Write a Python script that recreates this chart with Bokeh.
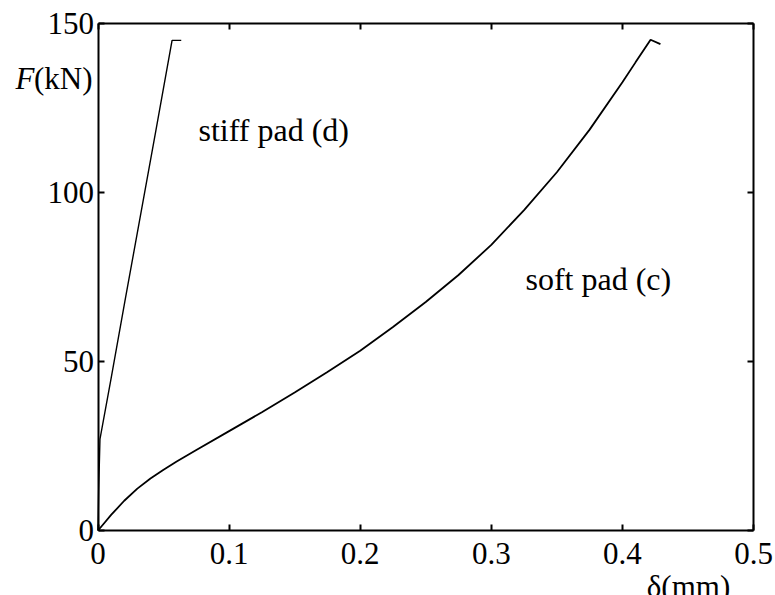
from bokeh.plotting import figure
from bokeh.models import Range1d, LinearAxis, Label, FixedTicker
from bokeh.embed import file_html
from bokeh.resources import INLINE

# Data
stiff_delta = [0.0, 0.0005, 0.0015, 0.010, 0.0206, 0.044, 0.0565, 0.0635]
stiff_force = [0.0, 12.0, 27.0, 45.0, 68.0, 118.0, 145.0, 145.0]

soft_delta = [0.0, 0.005, 0.010, 0.020, 0.030, 0.040, 0.050, 0.060, 0.075,
              0.100, 0.125, 0.150, 0.175, 0.200, 0.225, 0.250, 0.275, 0.300,
              0.325, 0.350, 0.375, 0.400, 0.410, 0.4215, 0.429]
soft_force = [0.0, 2.3, 4.6, 8.8, 12.4, 15.4, 18.0, 20.4, 23.8,
              29.4, 35.0, 40.8, 46.9, 53.2, 60.2, 67.6, 75.6, 84.5,
              94.8, 106.0, 118.6, 132.6, 138.5, 145.2, 143.9]

x_ticks = [0, 0.1, 0.2, 0.3, 0.4, 0.5]
x_tick_labels = ["0", "0.1", "0.2", "0.3", "0.4", "0.5"]
y_ticks = [0, 50, 100, 150]
y_tick_labels = ["0", "50", "100", "150"]
x_lim = (0, 0.5)
y_lim = (0, 150)

FONT = "Liberation Serif"
FS = "31px"
FS_TXT = "32px"

W, H = 775, 595
# pixel placement of the data box inside the canvas
left_px, right_px, top_px, bottom_px = 97.5, 753.0, 23.0, 530.0
sx = (x_lim[1] - x_lim[0]) / (right_px - left_px)
sy = (y_lim[1] - y_lim[0]) / (bottom_px - top_px)
x_range = Range1d(x_lim[0] - left_px * sx, x_lim[0] + (W - left_px) * sx)
y_range = Range1d(y_lim[0] - (H - bottom_px) * sy, y_lim[1] + top_px * sy)

p = figure(width=W, height=H, x_range=x_range, y_range=y_range,
           output_backend="svg", toolbar_location=None,
           min_border=0)
p.grid.visible = False
p.outline_line_color = None
p.background_fill_color = "white"
p.border_fill_color = None


def style(ax, ticks, labels, loc, bounds, show_labels=True):
    ax.fixed_location = loc
    ax.bounds = bounds
    ax.ticker = FixedTicker(ticks=ticks)
    ax.major_label_overrides = {t: l for t, l in zip(ticks, labels)}
    ax.major_tick_in = 6
    ax.major_tick_out = 0
    ax.minor_tick_in = 0
    ax.minor_tick_out = 0
    ax.axis_line_width = 2
    ax.axis_line_color = "black"
    ax.major_tick_line_width = 2
    ax.major_tick_line_color = "black"
    ax.major_label_text_font = FONT
    ax.major_label_text_color = "black"
    if show_labels:
        ax.major_label_text_font_size = FS
    else:
        ax.major_label_text_font_size = "0px"
        ax.major_label_standoff = 0


style(p.xaxis[0], x_ticks, x_tick_labels, y_lim[0], x_lim)
p.xaxis[0].major_label_standoff = 12
style(p.yaxis[0], y_ticks, y_tick_labels, x_lim[0], y_lim)
p.yaxis[0].major_label_standoff = 4

top = LinearAxis()
style(top, x_ticks, x_tick_labels, y_lim[1], x_lim, show_labels=False)
p.add_layout(top, "above")
right = LinearAxis()
style(right, y_ticks, y_tick_labels, x_lim[1], y_lim, show_labels=False)
p.add_layout(right, "right")

p.line(stiff_delta, stiff_force, line_color="black", line_width=1.4)
p.line(soft_delta, soft_force, line_color="black", line_width=1.8)


def px_x(px):
    return x_range.start + px * sx


def px_y(py):
    return y_range.end - py * sy


p.add_layout(Label(x=px_x(198), y=px_y(129), text="stiff pad (d)", text_font=FONT,
                   text_font_size=FS_TXT, text_baseline="alphabetic", text_align="left",
                   text_color="black"))
p.add_layout(Label(x=px_x(525), y=px_y(278), text="soft pad (c)", text_font=FONT,
                   text_font_size=FS_TXT, text_baseline="alphabetic", text_align="left",
                   text_color="black"))
p.add_layout(Label(x=px_x(92), y=px_y(78), text="(kN)", text_font=FONT,
                   text_font_size=FS, text_baseline="alphabetic", text_align="right",
                   text_color="black"))
p.add_layout(Label(x=px_x(34), y=px_y(78), text="F", text_font=FONT,
                   text_font_size=FS, text_font_style="italic",
                   text_baseline="alphabetic", text_align="right", text_color="black"))
p.add_layout(Label(x=px_x(688), y=px_y(586), text="δ(mm)", text_font=FONT,
                   text_font_size=FS, text_baseline="alphabetic", text_align="center",
                   text_color="black"))

open("out.html", "w").write(file_html(p, INLINE))
